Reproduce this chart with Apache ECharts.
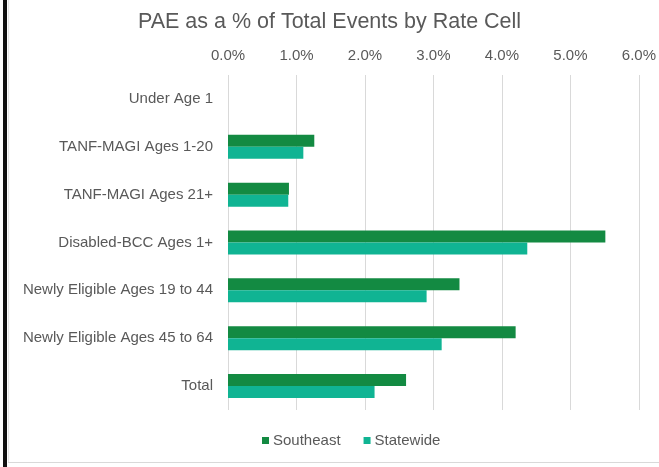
<!DOCTYPE html>
<html lang="en">

<head>
    <meta charset="UTF-8">
    <title>PAE as a % of Total Events by Rate Cell</title>
    <script src="https://cdnjs.cloudflare.com/ajax/libs/echarts/6.0.0/echarts.min.js"></script>
    <style>
        body { margin: 0; background: #fff; }
    </style>
</head>

<body>
    <div id="main" style="width: 659px;height:467px;"></div>

    <script type="text/javascript">
        // data (percent)
        const categories = ['Under Age 1', 'TANF-MAGI Ages 1-20', 'TANF-MAGI Ages 21+', 'Disabled-BCC Ages 1+',
            'Newly Eligible Ages 19 to 44', 'Newly Eligible Ages 45 to 64', 'Total'];
        const southeast = [0, 1.26, 0.89, 5.51, 3.38, 4.20, 2.60];
        const statewide = [0, 1.10, 0.88, 4.37, 2.90, 3.12, 2.14];
        const seriesNames = ['Southeast', 'Statewide'];

        const myChart = echarts.init(document.getElementById('main'));
        const textColor = '#595959';
        const fontFamily = '"Liberation Sans", Arial, sans-serif';

        var option = {
            backgroundColor: '#fff',
            textStyle: { fontFamily: fontFamily },
            title: {
                text: 'PAE as a % of Total Events by Rate Cell',
                left: 'center',
                top: 6,
                textStyle: { color: textColor, fontSize: 21.5, fontWeight: 'normal', fontFamily: fontFamily }
            },
            legend: {
                data: seriesNames,
                bottom: 14,
                left: 257,
                itemWidth: 7,
                itemHeight: 7,
                itemGap: 23,
                icon: 'rect',
                textStyle: { color: textColor, fontSize: 15, padding: [0, 0, 0, -1] }
            },
            grid: { left: 228, right: 19, top: 75, bottom: 57 },
            xAxis: {
                type: 'value',
                position: 'top',
                min: 0,
                max: 6,
                interval: 1,
                axisLine: { show: false },
                axisTick: { show: false },
                axisLabel: {
                    color: textColor,
                    fontSize: 15,
                    margin: 12,
                    formatter: (v) => v.toFixed(1) + '%'
                },
                splitLine: { lineStyle: { color: '#d9d9d9', width: 1 } }
            },
            yAxis: {
                type: 'category',
                data: categories,
                inverse: true,
                axisLine: { show: false },
                axisTick: { show: false },
                axisLabel: { color: textColor, fontSize: 15, margin: 15 }
            },
            graphic: [
                { type: 'rect', shape: { x: 3, y: 0, width: 4, height: 467 }, style: { fill: '#111' } },
                { type: 'rect', shape: { x: 8, y: 462, width: 651, height: 1 }, style: { fill: '#d9d9d9' } },
                { type: 'rect', shape: { x: 8, y: 0, width: 1, height: 462 }, style: { fill: '#e6e6e6' } }
            ],
            series: [
                {
                    name: seriesNames[0],
                    type: 'bar',
                    data: southeast,
                    barWidth: 12,
                    barGap: '0%',
                    itemStyle: { color: '#138a42' }
                },
                {
                    name: seriesNames[1],
                    type: 'bar',
                    data: statewide,
                    barWidth: 12,
                    barGap: '0%',
                    itemStyle: { color: '#10b493' }
                }
            ]
        };

        myChart.setOption(option);
    </script>
</body>

</html>
